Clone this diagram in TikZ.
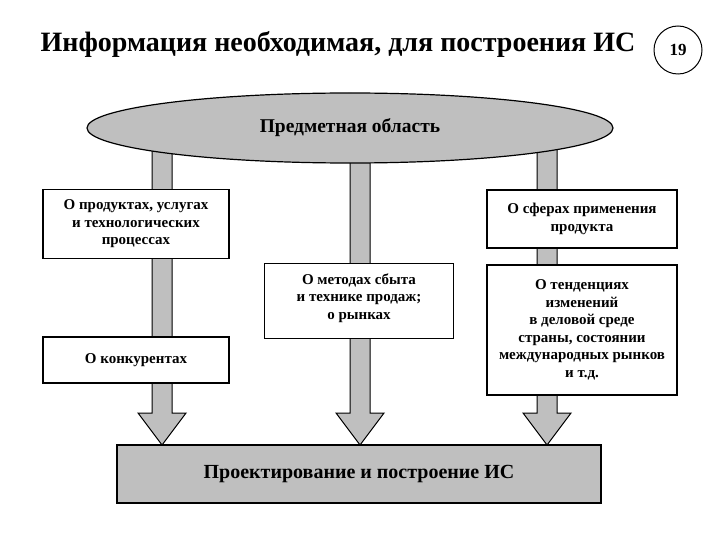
\documentclass[tikz,border=0pt]{standalone}
\usepackage{fontspec}
\setmainfont{Liberation Serif}
\usetikzlibrary{shapes.geometric}
\definecolor{bargray}{rgb}{0.75,0.75,0.75}
\tikzset{
  infobox/.style={draw=black,line width=1.2pt,fill=white,align=center,font=\bfseries\fontsize{15}{17.5}\selectfont,inner sep=2pt},
  blockbar/.style={draw=black,line width=1pt,fill=bargray}
}
\newcommand{\blockarrow}[3]{% x, top y, tip y
  \draw[blockbar] (#1-10,#2)--(#1+10,#2)--(#1+10,#3-32)--(#1+24,#3-32)--(#1,#3)--(#1-24,#3-32)--(#1-10,#3-32)--cycle;
}
\begin{document}
\begin{tikzpicture}[x=1pt,y=-1pt]
\useasboundingbox (0,0) rectangle (720,540);
% title
\node[font=\bfseries\fontsize{28}{30}\selectfont] (title) at (338,44) {Информация необходимая, для построения ИС};
\node[circle,draw=black,line width=1pt,minimum size=48pt,font=\bfseries\fontsize{17}{19}\selectfont] (page) at (678,50) {19};
% bars
\blockarrow{162}{140}{445}
\blockarrow{360}{140}{445}
\blockarrow{547}{140}{445}
% subject area
\node[ellipse,draw=black,line width=1.2pt,fill=bargray,minimum width=526pt,minimum height=70pt,font=\bfseries\fontsize{19.5}{22}\selectfont] (area) at (350,128) {Предметная область};
% boxes
\node[infobox,minimum width=186pt,minimum height=69pt] (prod) at (136,224) {О продуктах, услугах\\и технологических\\процессах};
\node[infobox,minimum width=190pt,minimum height=58pt] (sfer) at (582,219) {О сферах применения\\продукта};
\node[infobox,minimum width=189pt,minimum height=75pt] (metod) at (359,301) {};
\node[infobox,draw=none,fill=none] (metodtxt) at (359,298) {О методах сбыта\\и технике продаж;\\о рынках};
\node[infobox,minimum width=190pt,minimum height=130pt] (tend) at (582,330) {О тенденциях\\изменений\\в деловой среде\\страны, состоянии\\международных рынков\\и т.д.};
\node[infobox,minimum width=186pt,minimum height=46pt] (konk) at (136,360) {О конкурентах};
\node[draw=black,line width=1.2pt,fill=bargray,minimum width=484pt,minimum height=58pt,font=\bfseries\fontsize{20}{22}\selectfont] (proj) at (359,474) {Проектирование и построение ИС};
\end{tikzpicture}
\end{document}
